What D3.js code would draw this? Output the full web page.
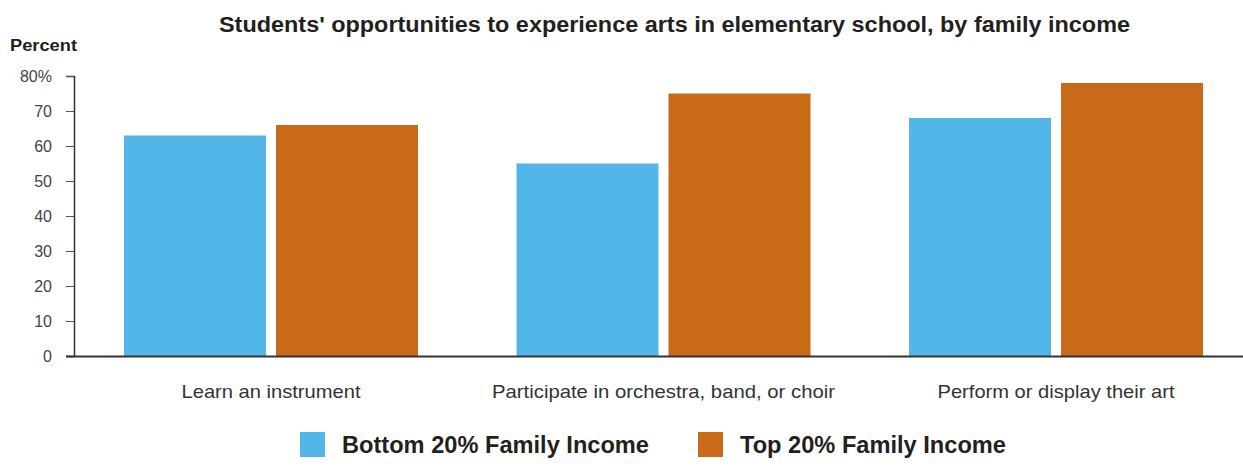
<!DOCTYPE html>
<html>
<head>
<meta charset="utf-8">
<script src="https://cdn.jsdelivr.net/npm/d3@7"></script>
<style>
  body { margin: 0; background: #fff; }
  svg { display: block; font-family: "Liberation Sans", Arial, Helvetica, sans-serif; }
</style>
</head>
<body>
<svg id="chart" width="1243" height="466"></svg>
<script>
// Chart data
const categories = ["Learn an instrument", "Participate in orchestra, band, or choir", "Perform or display their art"];
const seriesNames = ["Bottom 20% Family Income", "Top 20% Family Income"];
const bottom20 = [63, 55, 68];
const top20 = [66, 75, 78];
const yTicks = [0, 10, 20, 30, 40, 50, 60, 70, 80];
const colors = ["#52B7E8", "#C96A18"];

const rows = categories.map((c, i) => ({ category: c, values: [bottom20[i], top20[i]] }));

const svg = d3.select("#chart");
const x0 = d3.scaleBand().domain(categories).range([74.75, 1252.25]).paddingInner(0.251).paddingOuter(0.1255);
const x1 = d3.scaleBand().domain(seriesNames).range([0, x0.bandwidth()]).paddingInner(0.066);
const y = d3.scaleLinear().domain([0, 80]).range([356, 76]);

// Fit a text element to a given width (the typeface runs wide)
function fit(sel, widthFor) {
  sel.attr("textLength", widthFor).attr("lengthAdjust", "spacingAndGlyphs");
}

// Title
svg.append("text").attr("x", 674.5).attr("y", 31.5).attr("text-anchor", "middle")
  .attr("font-size", 22).attr("font-weight", "bold").attr("fill", "#231f20")
  .text("Students' opportunities to experience arts in elementary school, by family income")
  .call(fit, 911);

svg.append("text").attr("x", 10).attr("y", 50.5)
  .attr("font-size", 16).attr("font-weight", "bold").attr("fill", "#231f20")
  .text("Percent").call(fit, 67);

// Y axis
const yAxis = svg.append("g").attr("transform", "translate(74,0)")
  .call(d3.axisLeft(y).tickValues(yTicks).tickSize(8).tickPadding(14)
    .tickFormat(d => d === 80 ? "80%" : d));
yAxis.select(".domain").attr("stroke", "#333").attr("stroke-width", 1.5);
yAxis.selectAll(".tick line").attr("stroke", "#555");
yAxis.selectAll(".tick text").attr("font-size", 16).attr("fill", "#444")
  .attr("font-family", "Liberation Sans, Arial, sans-serif");

// Bars
const groups = svg.append("g").selectAll("g").data(rows).join("g")
  .attr("transform", d => `translate(${x0(d.category)},0)`);
groups.selectAll("rect").data(d => d.values.map((v, i) => ({ name: seriesNames[i], value: v, i })))
  .join("rect")
  .attr("x", d => x1(d.name))
  .attr("y", d => y(d.value))
  .attr("width", x1.bandwidth())
  .attr("height", d => y(0) - y(d.value))
  .attr("fill", d => colors[d.i]);

// Baseline
svg.append("line").attr("x1", 66).attr("x2", 1243).attr("y1", 356.5).attr("y2", 356.5)
  .attr("stroke", "#333").attr("stroke-width", 2);

// Category labels
const catWidths = [179, 343, 237];
svg.append("g").selectAll("text").data(categories).join("text")
  .attr("x", d => x0(d) + x0.bandwidth() / 2)
  .attr("y", 398).attr("text-anchor", "middle")
  .attr("font-size", 19).attr("fill", "#333")
  .text(d => d)
  .each(function (d, i) { d3.select(this).call(fit, catWidths[i]); });

// Legend
const legendX = [300, 698];
const legendWidths = [307, 266];
const legend = svg.append("g").selectAll("g").data(seriesNames).join("g")
  .attr("transform", (d, i) => `translate(${legendX[i]},432)`);
legend.append("rect").attr("width", 25).attr("height", 25).attr("fill", (d, i) => colors[i]);
legend.append("text").attr("x", 42).attr("y", 21)
  .attr("font-size", 23).attr("font-weight", "bold").attr("fill", "#231f20")
  .text(d => d)
  .each(function (d, i) { d3.select(this).call(fit, legendWidths[i]); });
</script>
</body>
</html>
